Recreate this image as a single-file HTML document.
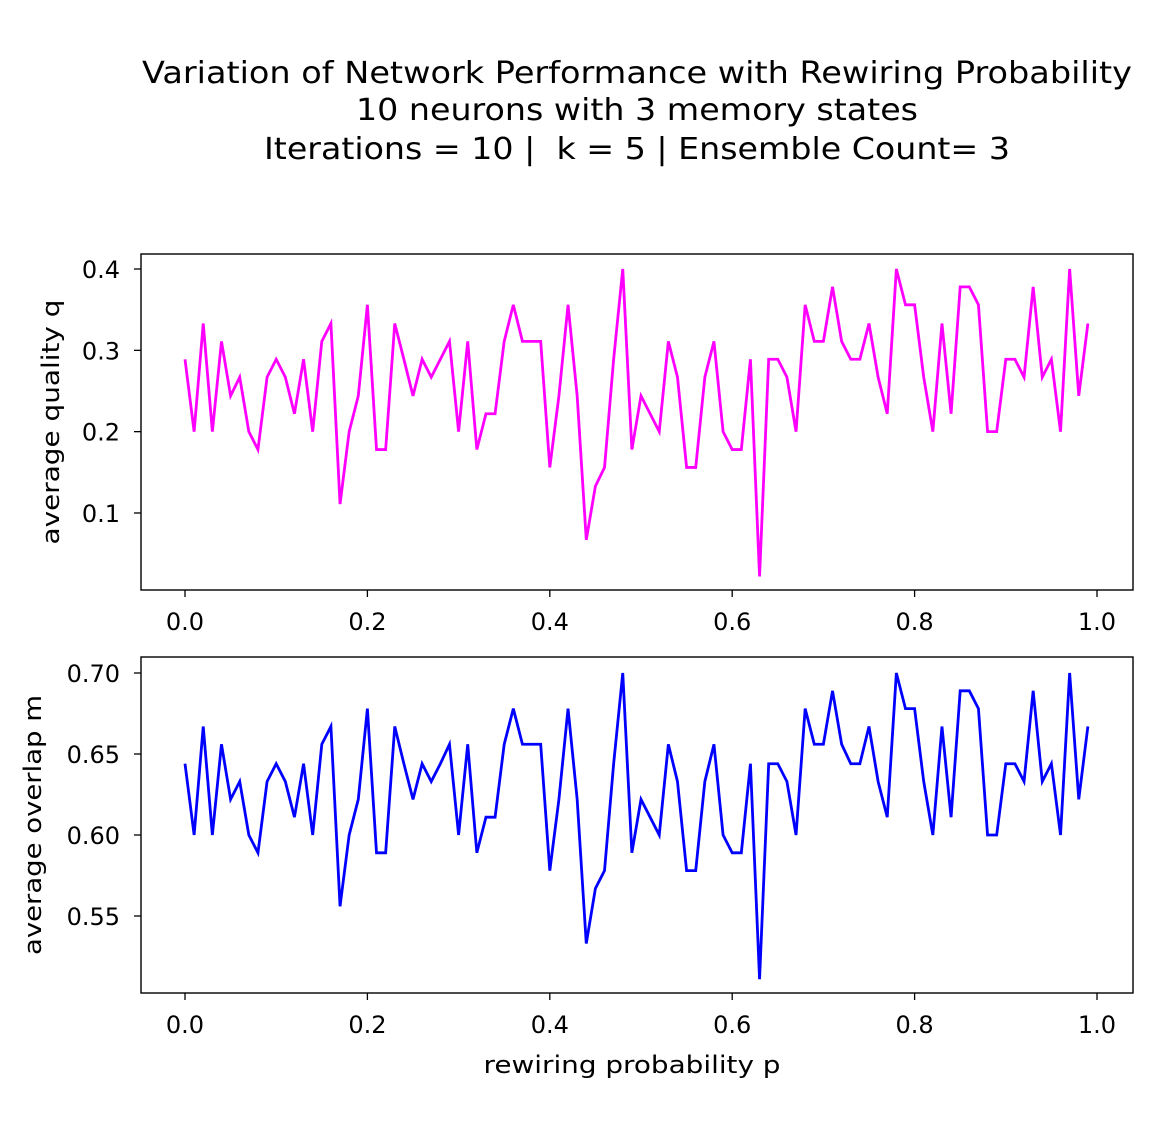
<!DOCTYPE html>
<html><head><meta charset="utf-8"><style>
body{margin:0;background:#fff;}
svg{display:block;font-family:"DejaVu Sans","Liberation Sans",sans-serif;}
</style></head><body>
<svg id="chart" width="1163" height="1132">
<rect width="1163" height="1132" fill="#fff"/>
<g font-size="30" text-anchor="middle" fill="#000">
<text x="637" y="83" textLength="990" lengthAdjust="spacingAndGlyphs">Variation of Network Performance with Rewiring Probability</text>
<text x="637" y="120" textLength="562" lengthAdjust="spacingAndGlyphs">10 neurons with 3 memory states</text>
<text x="637" y="159" textLength="746" lengthAdjust="spacingAndGlyphs" xml:space="preserve">Iterations = 10 |  k = 5 | Ensemble Count= 3</text>
</g>
<g id="top"></g>
<g id="bottom"></g>
</svg>
<script>
const pValues = Array.from({length:100},(_,i)=>i/100);
const qValues = [0.289,0.2,0.333,0.2,0.311,0.244,0.267,0.2,0.178,0.267,
0.289,0.267,0.222,0.289,0.2,0.311,0.333,0.111,0.2,0.244,
0.356,0.178,0.178,0.333,0.289,0.244,0.289,0.267,0.289,0.311,
0.2,0.311,0.178,0.222,0.222,0.311,0.356,0.311,0.311,0.311,
0.156,0.244,0.356,0.244,0.067,0.133,0.156,0.289,0.4,0.178,
0.244,0.222,0.2,0.311,0.267,0.156,0.156,0.267,0.311,0.2,
0.178,0.178,0.289,0.022,0.289,0.289,0.267,0.2,0.356,0.311,
0.311,0.378,0.311,0.289,0.289,0.333,0.267,0.222,0.4,0.356,
0.356,0.267,0.2,0.333,0.222,0.378,0.378,0.356,0.2,0.2,
0.289,0.289,0.267,0.378,0.267,0.289,0.2,0.4,0.244,0.333];
const mValues = [0.644,0.6,0.667,0.6,0.656,0.622,0.633,0.6,0.589,0.633,
0.644,0.633,0.611,0.644,0.6,0.656,0.667,0.556,0.6,0.622,
0.678,0.589,0.589,0.667,0.644,0.622,0.644,0.633,0.644,0.656,
0.6,0.656,0.589,0.611,0.611,0.656,0.678,0.656,0.656,0.656,
0.578,0.622,0.678,0.622,0.533,0.567,0.578,0.644,0.7,0.589,
0.622,0.611,0.6,0.656,0.633,0.578,0.578,0.633,0.656,0.6,
0.589,0.589,0.644,0.511,0.644,0.644,0.633,0.6,0.678,0.656,
0.656,0.689,0.656,0.644,0.644,0.667,0.633,0.611,0.7,0.678,
0.678,0.633,0.6,0.667,0.611,0.689,0.689,0.678,0.6,0.6,
0.644,0.644,0.633,0.689,0.633,0.644,0.6,0.7,0.622,0.667];
const xTicks = [0.0,0.2,0.4,0.6,0.8,1.0];
const qTicks = [0.1,0.2,0.3,0.4];
const mTicks = [0.55,0.60,0.65,0.70];
const NS="http://www.w3.org/2000/svg";
function mk(parent,tag,attrs,text){const e=document.createElementNS(NS,tag);for(const k in attrs)e.setAttribute(k,attrs[k]);if(text!==undefined)e.textContent=text;parent.appendChild(e);return e;}
const xScale = p => 185 + p*912;
function panel(g, top, vals, ticks, yScale, color, ylabel, fmt, prefix, ylx, ylLen){
  const frame = mk(g,'rect',{x:141,y:top,width:992,height:336,fill:'none',stroke:'#000','stroke-width':1.4});
  
  
  xTicks.forEach(t=>{
    const x=xScale(t);
    mk(g,'line',{x1:x,x2:x,y1:top+336,y2:top+343,stroke:'#000','stroke-width':1.3});
    const tl=mk(g,'text',{x:x,y:top+376,'font-size':24,'text-anchor':'middle'},t.toFixed(1));
    
    
  });
  ticks.forEach(t=>{
    const y=yScale(t);
    mk(g,'line',{x1:134,x2:141,y1:y,y2:y,stroke:'#000','stroke-width':1.3});
    const tl=mk(g,'text',{x:120,y:y+9,'font-size':24,'text-anchor':'end'},t.toFixed(fmt));
    
    
  });
  const pts = vals.map((v,i)=>xScale(pValues[i]).toFixed(2)+','+yScale(v).toFixed(2)).join(' ');
  const line = mk(g,'polyline',{points:pts,fill:'none',stroke:color,'stroke-width':2.8,'stroke-linejoin':'miter'});
  
  
  const yl = mk(g,'text',{x:0,y:0,'font-size':24,'text-anchor':'middle',textLength:ylLen,lengthAdjust:'spacingAndGlyphs',transform:`translate(${ylx},${top+168}) rotate(-90)`},ylabel);
  
  
}
panel(document.getElementById('top'),254,qValues,qTicks,v=>269+(0.4-v)*813.3,'#ff00ff','average quality q',1,'quality',59,245);
panel(document.getElementById('bottom'),657,mValues,mTicks,v=>673+(0.7-v)*1620,'#0000ff','average overlap m',2,'overlap',41,260);
const xl = mk(document.getElementById('chart'),'text',{x:632,y:1073,'font-size':24,'text-anchor':'middle',textLength:297,lengthAdjust:'spacingAndGlyphs'},'rewiring probability p');


</script>
</body></html>
